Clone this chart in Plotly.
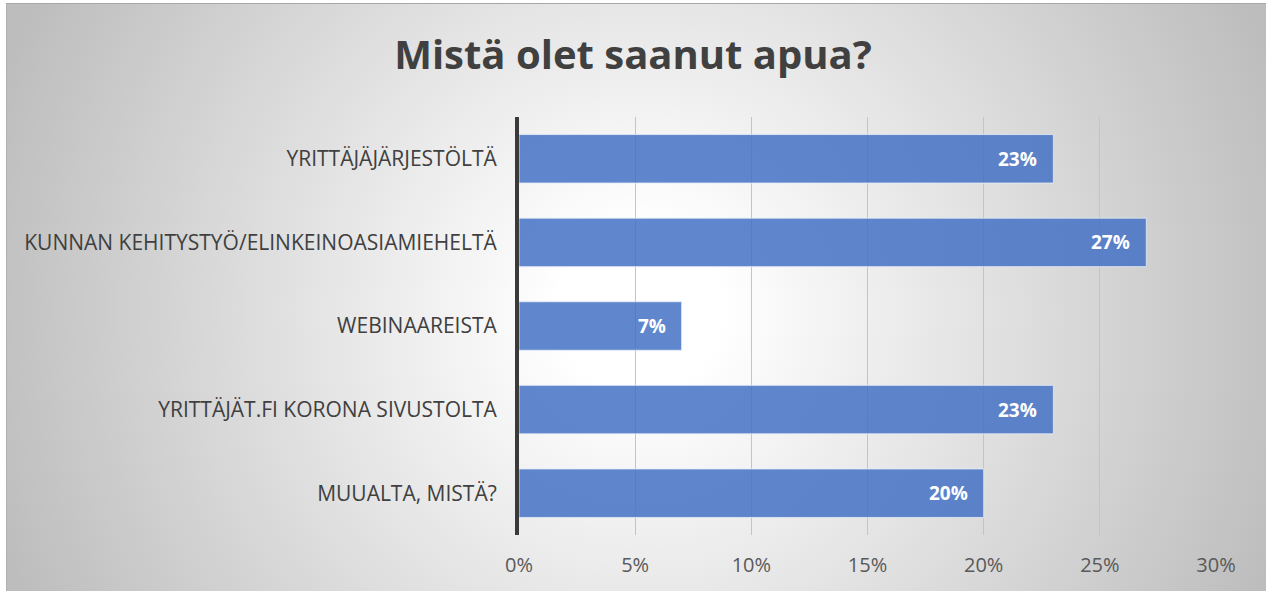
import base64
import plotly.graph_objects as go

# ---- data ----
categories = [
    "YRITTÄJÄJÄRJESTÖLTÄ",
    "KUNNAN KEHITYSTYÖ/ELINKEINOASIAMIEHELTÄ",
    "WEBINAAREISTA",
    "YRITTÄJÄT.FI KORONA SIVUSTOLTA",
    "MUUALTA, MISTÄ?",
]
values = [0.23, 0.27, 0.07, 0.23, 0.20]
value_labels = ["23%", "27%", "7%", "23%", "20%"]
tick_vals = [0, 0.05, 0.10, 0.15, 0.20, 0.25, 0.30]
tick_text = ["0%", "5%", "10%", "15%", "20%", "25%", "30%"]
title_text = "Mistä olet saanut apua?"

W, H = 1266, 591
ML, MR, MT, MB = 519, 50, 117, 56

# radial gradient background (SVG data URI)
svg = f'''<svg xmlns="http://www.w3.org/2000/svg" width="{W}" height="{H}" viewBox="0 0 {W} {H}">
<defs><radialGradient id="g" gradientUnits="userSpaceOnUse" cx="640" cy="310" r="680">
<stop offset="0" stop-color="#ffffff"/><stop offset="0.12" stop-color="#ffffff"/>
<stop offset="1" stop-color="#bdbdbd"/></radialGradient></defs>
<rect x="0" y="0" width="{W}" height="{H}" fill="#ffffff"/>
<rect x="6" y="3" width="{W-6}" height="{H-3}" fill="url(#g)"/>
<line x1="6" y1="3.5" x2="{W}" y2="3.5" stroke="#a6a6a6" stroke-width="1"/>
<line x1="6.5" y1="3" x2="6.5" y2="{H}" stroke="#b0b0b0" stroke-width="1"/>
</svg>'''
bg_uri = "data:image/svg+xml;base64," + base64.b64encode(svg.encode()).decode()

pw, ph = W - ML - MR, H - MT - MB

fig = go.Figure()
fig.add_trace(go.Bar(
    y=categories,
    x=values,
    orientation="h",
    marker=dict(color="rgba(68,114,196,0.85)",
                line=dict(color="rgba(230,236,248,0.8)", width=1)),
    hoverinfo="skip",
))

for cat, v, lab in zip(categories, values, value_labels):
    fig.add_annotation(x=v, y=cat, xref="x", yref="y", text=lab, showarrow=False,
                       xanchor="right", yanchor="middle", xshift=-14,
                       font=dict(family="Open Sans", size=19, color="white", weight="bold"))

fig.update_layout(
    width=W, height=H,
    margin=dict(l=ML, r=MR, t=MT, b=MB),
    paper_bgcolor="rgba(0,0,0,0)",
    plot_bgcolor="rgba(0,0,0,0)",
    showlegend=False,
    bargap=0.42,
    title=dict(text=title_text, x=0.5, xref="container", xanchor="center",
               y=1 - 55 / H, yref="container", yanchor="middle",
               font=dict(family="Open Sans", size=40, color="#404040", weight="bold")),
    images=[dict(source=bg_uri, xref="paper", yref="paper", x=-ML / pw,
                 y=1 + MT / ph, sizex=W / pw, sizey=H / ph,
                 xanchor="left", yanchor="top", sizing="stretch", layer="below")],
    xaxis=dict(range=[0, 0.30], tickvals=tick_vals, ticktext=tick_text,
               showgrid=True, gridcolor="#c4c4c4", gridwidth=1,
               zeroline=False, showline=False, ticks="",
               tickfont=dict(family="Open Sans", size=20, color="#595959"),
               ticklabelstandoff=16, fixedrange=True),
    yaxis=dict(autorange="reversed", showline=True, linecolor="#3a3a3a", linewidth=4,
               ticks="", showgrid=False,
               tickfont=dict(family="Open Sans", size=21, color="#404040"),
               ticklabelstandoff=14, fixedrange=True),
)

fig.write_html("out.html", config={"displayModeBar": False},
               post_script="document.body.style.margin='0';document.body.style.overflow='hidden';")
